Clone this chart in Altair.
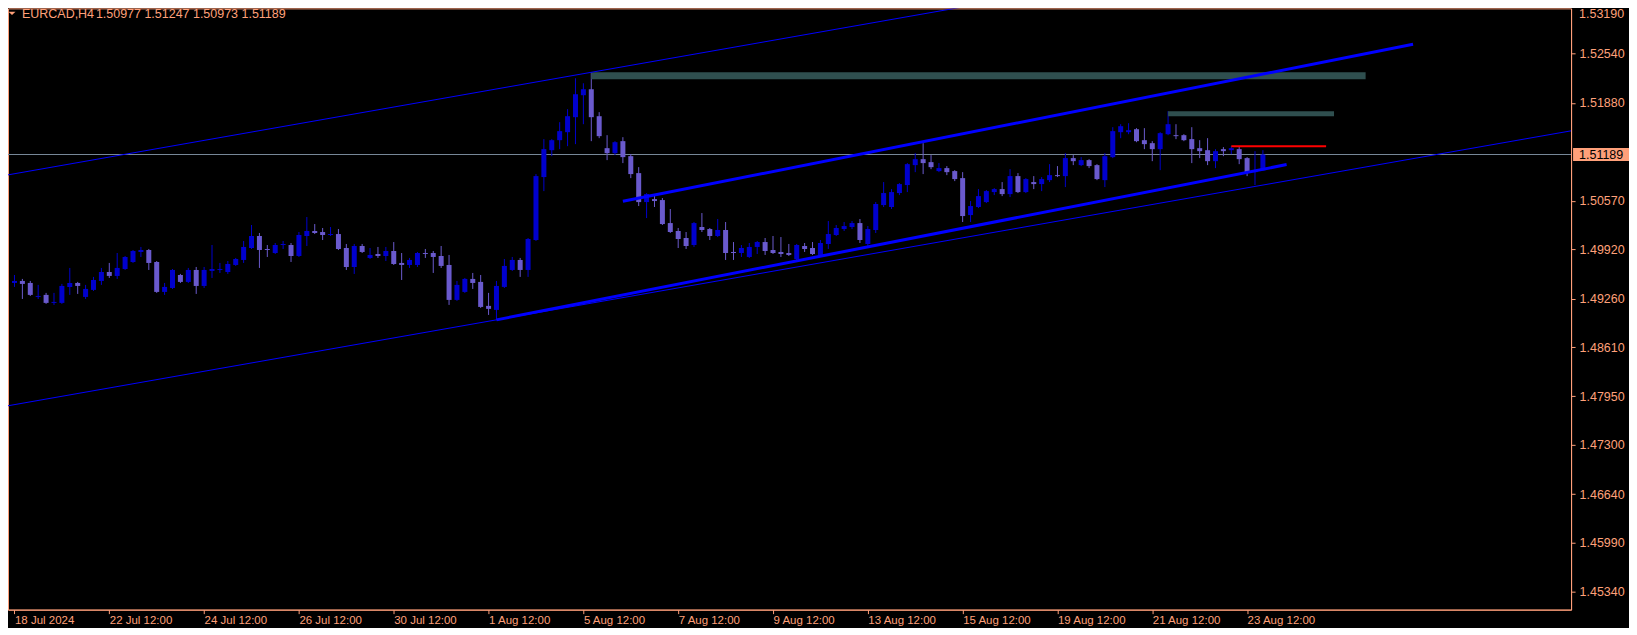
import altair as alt
import pandas as pd

# ---------------- data ----------------
opens = [1.49469, 1.49496, 1.49469, 1.49282, 1.49309, 1.49202, 1.49202, 1.49416, 1.49469, 1.49282,
         1.49376, 1.49496, 1.49616, 1.49563, 1.49656, 1.49750, 1.49884, 1.49910, 1.49750, 1.49349,
         1.49402, 1.49576, 1.49483, 1.49643, 1.49429, 1.49630, 1.49643, 1.49616, 1.49710, 1.49777,
         1.49937, 1.50098, 1.49924, 1.49870, 1.49977, 1.49977, 1.49830, 1.50098, 1.50165, 1.50151,
         1.50111, 1.50124, 1.49937, 1.49683, 1.49964, 1.49804, 1.49857, 1.49830, 1.49897, 1.49737,
         1.49710, 1.49710, 1.49870, 1.49870, 1.49830, 1.49710, 1.49242, 1.49349, 1.49523, 1.49483,
         1.49162, 1.49108, 1.49416, 1.49643, 1.49777, 1.49643, 1.50044, 1.50887, 1.51247, 1.51381,
         1.51488, 1.51689, 1.51983, 1.52063, 1.51702, 1.51274, 1.51207, 1.51368, 1.51167, 1.50940,
         1.50552, 1.50592, 1.50579, 1.50271, 1.50165, 1.50071, 1.49977, 1.50218, 1.50191, 1.50098,
         1.50178, 1.49884, 1.49870, 1.49817, 1.49951, 1.50017, 1.49910, 1.49884, 1.49870, 1.49790,
         1.49964, 1.49937, 1.49844, 1.49991, 1.50111, 1.50191, 1.50218, 1.50271, 1.49991, 1.50178,
         1.50512, 1.50486, 1.50673, 1.50780, 1.51047, 1.51127, 1.51087, 1.50967, 1.51007, 1.50967,
         1.50873, 1.50378, 1.50486, 1.50552, 1.50686, 1.50726, 1.50659, 1.50900, 1.50686, 1.50820,
         1.50793, 1.50846, 1.50913, 1.50900, 1.51141, 1.51047, 1.51114, 1.51047, 1.50846, 1.51154,
         1.51488, 1.51488, 1.51528, 1.51381, 1.51341, 1.51261, 1.51461, 1.51448, 1.51448, 1.51395,
         1.51274, 1.51247, 1.51100, 1.51261, 1.51247, 1.51261, 1.51141, 1.50953, 1.50977]

highs = [1.49576, 1.49523, 1.49496, 1.49443, 1.49336, 1.49336, 1.49456, 1.49670, 1.49483, 1.49443,
         1.49550, 1.49670, 1.49737, 1.49870, 1.49830, 1.49910, 1.49951, 1.49924, 1.49763, 1.49469,
         1.49656, 1.49590, 1.49670, 1.49683, 1.49683, 1.49977, 1.49737, 1.49763, 1.49804, 1.50031,
         1.50245, 1.50138, 1.49977, 1.50004, 1.50031, 1.50004, 1.50151, 1.50352, 1.50258, 1.50205,
         1.50218, 1.50191, 1.49991, 1.49991, 1.49991, 1.49937, 1.49951, 1.49951, 1.50017, 1.49870,
         1.49804, 1.49884, 1.49924, 1.49897, 1.49964, 1.49844, 1.49496, 1.49536, 1.49603, 1.49576,
         1.49336, 1.49496, 1.49790, 1.49817, 1.49804, 1.50071, 1.50927, 1.51395, 1.51395, 1.51622,
         1.51796, 1.52210, 1.52143, 1.52290, 1.51756, 1.51448, 1.51368, 1.51421, 1.51194, 1.51020,
         1.50672, 1.50659, 1.50606, 1.50459, 1.50205, 1.50151, 1.50285, 1.50405, 1.50205, 1.50325,
         1.50285, 1.50017, 1.49977, 1.50004, 1.50031, 1.50071, 1.50098, 1.50084, 1.49991, 1.49991,
         1.50004, 1.50017, 1.50044, 1.50298, 1.50245, 1.50285, 1.50298, 1.50325, 1.50231, 1.50552,
         1.50820, 1.50726, 1.50806, 1.51074, 1.51207, 1.51341, 1.51181, 1.51074, 1.51034, 1.50980,
         1.50953, 1.50566, 1.50726, 1.50713, 1.50739, 1.50820, 1.50993, 1.50940, 1.50873, 1.50900,
         1.50887, 1.51060, 1.51034, 1.51207, 1.51181, 1.51154, 1.51127, 1.51060, 1.51207, 1.51555,
         1.51595, 1.51608, 1.51542, 1.51542, 1.51368, 1.51488, 1.51769, 1.51595, 1.51461, 1.51555,
         1.51381, 1.51408, 1.51261, 1.51288, 1.51301, 1.51301, 1.51154, 1.51234, 1.51247]

lows = [1.49416, 1.49255, 1.49295, 1.49255, 1.49189, 1.49175, 1.49189, 1.49309, 1.49322, 1.49255,
        1.49362, 1.49443, 1.49536, 1.49523, 1.49643, 1.49737, 1.49817, 1.49643, 1.49336, 1.49309,
        1.49389, 1.49469, 1.49469, 1.49322, 1.49402, 1.49536, 1.49603, 1.49590, 1.49697, 1.49737,
        1.49924, 1.49670, 1.49817, 1.49857, 1.49924, 1.49750, 1.49817, 1.49964, 1.50124, 1.50044,
        1.50098, 1.49910, 1.49643, 1.49590, 1.49870, 1.49790, 1.49804, 1.49763, 1.49710, 1.49509,
        1.49670, 1.49683, 1.49804, 1.49603, 1.49670, 1.49175, 1.49229, 1.49336, 1.49389, 1.49135,
        1.49041, 1.48975, 1.49402, 1.49630, 1.49550, 1.49550, 1.50031, 1.50699, 1.51167, 1.51261,
        1.51301, 1.51328, 1.51595, 1.51368, 1.51408, 1.51114, 1.51181, 1.51074, 1.50873, 1.50499,
        1.50338, 1.50486, 1.50245, 1.50138, 1.49937, 1.49924, 1.49951, 1.50151, 1.50044, 1.50084,
        1.49777, 1.49777, 1.49817, 1.49804, 1.49857, 1.49844, 1.49857, 1.49817, 1.49830, 1.49777,
        1.49884, 1.49844, 1.49830, 1.49924, 1.50098, 1.50165, 1.50191, 1.50004, 1.49964, 1.50138,
        1.50486, 1.50459, 1.50646, 1.50686, 1.50953, 1.50927, 1.50993, 1.50953, 1.50913, 1.50833,
        1.50285, 1.50285, 1.50472, 1.50539, 1.50646, 1.50632, 1.50619, 1.50673, 1.50673, 1.50726,
        1.50699, 1.50820, 1.50887, 1.50753, 1.51047, 1.51034, 1.51007, 1.50846, 1.50753, 1.51141,
        1.51408, 1.51461, 1.51354, 1.51261, 1.51100, 1.50980, 1.51448, 1.51395, 1.51368, 1.51074,
        1.51141, 1.51047, 1.51007, 1.51167, 1.51194, 1.51060, 1.50900, 1.50780, 1.50973]

closes = [1.49496, 1.49456, 1.49309, 1.49295, 1.49202, 1.49215, 1.49429, 1.49469, 1.49429, 1.49389,
          1.49509, 1.49616, 1.49563, 1.49670, 1.49817, 1.49897, 1.49910, 1.49737, 1.49349, 1.49416,
          1.49643, 1.49483, 1.49643, 1.49429, 1.49643, 1.49656, 1.49656, 1.49723, 1.49790, 1.49951,
          1.50098, 1.49910, 1.49910, 1.49977, 1.49991, 1.49830, 1.50111, 1.50165, 1.50138, 1.50111,
          1.50124, 1.49924, 1.49683, 1.49964, 1.49884, 1.49844, 1.49830, 1.49897, 1.49723, 1.49710,
          1.49777, 1.49870, 1.49857, 1.49817, 1.49697, 1.49242, 1.49443, 1.49523, 1.49469, 1.49148,
          1.49122, 1.49429, 1.49697, 1.49777, 1.49643, 1.50058, 1.50900, 1.51261, 1.51381, 1.51502,
          1.51702, 1.51996, 1.52063, 1.51689, 1.51435, 1.51207, 1.51354, 1.51154, 1.50927, 1.50552,
          1.50659, 1.50566, 1.50258, 1.50151, 1.50058, 1.49964, 1.50271, 1.50178, 1.50098, 1.50178,
          1.49870, 1.49870, 1.49937, 1.49951, 1.50017, 1.49897, 1.49870, 1.49857, 1.49844, 1.49977,
          1.49924, 1.49857, 1.50004, 1.50124, 1.50205, 1.50231, 1.50271, 1.50044, 1.50191, 1.50526,
          1.50673, 1.50686, 1.50793, 1.51060, 1.51127, 1.51074, 1.51020, 1.51007, 1.50953, 1.50860,
          1.50365, 1.50499, 1.50632, 1.50699, 1.50726, 1.50659, 1.50900, 1.50686, 1.50860, 1.50793,
          1.50860, 1.50913, 1.50900, 1.51141, 1.51100, 1.51114, 1.51034, 1.50860, 1.51167, 1.51502,
          1.51568, 1.51515, 1.51368, 1.51328, 1.51261, 1.51475, 1.51595, 1.51435, 1.51381, 1.51261,
          1.51234, 1.51100, 1.51234, 1.51234, 1.51274, 1.51127, 1.50953, 1.50980, 1.51189]

tick_bars = list(range(0, 157, 12))
tick_texts = ["18 Jul 2024", "22 Jul 12:00", "24 Jul 12:00", "26 Jul 12:00", "30 Jul 12:00",
              "1 Aug 12:00", "5 Aug 12:00", "7 Aug 12:00", "9 Aug 12:00", "13 Aug 12:00",
              "15 Aug 12:00", "19 Aug 12:00", "21 Aug 12:00", "23 Aug 12:00"]
price_ticks = [1.45340, 1.45990, 1.46640, 1.47300, 1.47950, 1.48610, 1.49260,
               1.49920, 1.50570, 1.51880, 1.52540]
top_price_label = ["1.53190"]

symbol_text = "EURCAD,H4"
ohlc_text = "1.50977 1.51247 1.50973 1.51189"
last_price = [1.51189]
last_price_text = ["1.51189"]

# channel (thin lines): anchor bars / prices and common slope (price per bar)
channel_anchor_bars = [73, 61]
channel_anchor_prices = [1.52290, 1.48975]
channel_slope = 0.0001861
# thick trend lines: start/end bars and prices
trend_bars = [[61, 161], [77, 177]]
trend_prices = [[1.48975, 1.51054], [1.50562, 1.52665]]
# horizontal zones
zone_start = [73, 146]
zone_end = [171, 167]
zone_low = [1.52197, 1.51702]
zone_high = [1.52290, 1.51769]
# red level
red_start = [154]
red_end = [166]
red_price = [1.51301]

# ---------------- styling ----------------
SALMON = "#FFA07A"
BULL = "#0000CD"
BEAR = "#6A5ACD"
LINE_BLUE = "#0000FF"
ZONE = "#2F4F4F"
PRICE_LINE = "#778899"
FONT = "Liberation Sans"

W, H = 1565, 602
X_DOMAIN = [-0.188, 196.37]
Y_DOMAIN = [1.450945, 1.531458]

x_scale = alt.Scale(domain=X_DOMAIN, nice=False, zero=False)
y_scale = alt.Scale(domain=Y_DOMAIN, nice=False, zero=False)

label_expr = "[" + ",".join("'%s'" % t for t in tick_texts) + "][round(datum.value / 12)]"

x_axis = alt.Axis(values=tick_bars, labelExpr=label_expr, orient="bottom", title=None, grid=False,
                  tickSize=4, labelAlign="left", labelBaseline="top", labelPadding=1,
                  labelOverlap=False, labelFlush=False, labelBound=False, labelFontSize=11.5,
                  labelColor=SALMON, tickColor=SALMON, domainColor=SALMON, labelFont=FONT)
y_axis = alt.Axis(values=price_ticks, format=".5f", orient="right", title=None, grid=False,
                  tickSize=4, labelPadding=4, labelOverlap=False, labelFlush=False,
                  labelFontSize=12.5, labelColor=SALMON, tickColor=SALMON, domainColor=SALMON,
                  labelFont=FONT, labelBaseline="middle")


def X(field):
    return alt.X(field, scale=x_scale, axis=x_axis)


def Y(field):
    return alt.Y(field, scale=y_scale, axis=y_axis)


n = len(opens)
candles = pd.DataFrame({
    "bar": list(range(n)),
    "open": opens, "high": highs, "low": lows, "close": closes,
})
candles["dir"] = ["up" if c >= o else "down" for o, c in zip(opens, closes)]
color = alt.Color("dir:N", scale=alt.Scale(domain=["up", "down"], range=[BULL, BEAR]), legend=None)

wicks = alt.Chart(candles).mark_rule(strokeWidth=1).encode(
    x=X("bar:Q"), y=Y("low:Q"), y2="high:Q", color=color)
bodies = alt.Chart(candles).mark_bar(size=5).encode(
    x=X("bar:Q"), y=Y("open:Q"), y2="close:Q", color=color)

# current price line
price_df = pd.DataFrame({"price": last_price, "label": last_price_text})
price_line = alt.Chart(price_df).mark_rule(color=PRICE_LINE, strokeWidth=1).encode(y=Y("price:Q"))

# channel thin lines
edge_bars = [X_DOMAIN[0] - 1, X_DOMAIN[1] + 1]
ch_rows = []
for k, (ab, ap) in enumerate(zip(channel_anchor_bars, channel_anchor_prices)):
    for b in edge_bars:
        ch_rows.append({"line": k, "bar": b, "price": ap + channel_slope * (b - ab)})
channel = alt.Chart(pd.DataFrame(ch_rows)).mark_line(color=LINE_BLUE, strokeWidth=1, clip=True).encode(
    x=X("bar:Q"), y=Y("price:Q"), detail="line:N")

# thick trend lines
tr_rows = []
for k, (bs, ps) in enumerate(zip(trend_bars, trend_prices)):
    for b, p in zip(bs, ps):
        tr_rows.append({"line": k, "bar": b, "price": p})
trends = alt.Chart(pd.DataFrame(tr_rows)).mark_line(color=LINE_BLUE, strokeWidth=3, clip=True).encode(
    x=X("bar:Q"), y=Y("price:Q"), detail="line:N")

# zones
zones_df = pd.DataFrame({"x1": zone_start, "x2": zone_end, "lo": zone_low, "hi": zone_high})
zones = alt.Chart(zones_df).mark_rect(color=ZONE, opacity=1).encode(
    x=X("x1:Q"), x2="x2:Q", y=Y("lo:Q"), y2="hi:Q")

# red level
red_df = pd.DataFrame({"x1": red_start, "x2": red_end, "p": red_price})
red = alt.Chart(red_df).mark_rule(color="#FF0000", strokeWidth=2).encode(
    x=X("x1:Q"), x2="x2:Q", y=Y("p:Q"))

# last price tag on the right axis
tag_shape = "M-1,-0.232L1,-0.232L1,0.232L-1,0.232Z"
tag_box = alt.Chart(price_df).mark_point(shape=tag_shape, size=3136, filled=True, color=SALMON,
                                         opacity=1, strokeWidth=0).encode(
    x=alt.value(W + 30), y=Y("price:Q"))
tag_text = alt.Chart(price_df).mark_text(align="left", baseline="middle", font=FONT, fontSize=12.5,
                                         color="black").encode(
    x=alt.value(W + 8), y=Y("price:Q"), text="label:N")

# topmost price label (its tick sits just above the visible frame)
top_df = pd.DataFrame({"t": top_price_label})
top_label = alt.Chart(top_df).mark_text(align="left", baseline="middle", font=FONT, fontSize=12.5,
                                        color=SALMON).encode(
    x=alt.value(W + 8), y=alt.value(6), text="t:N")

# header
head_df = pd.DataFrame({"sym": [symbol_text], "ohlc": [ohlc_text]})
head_sym = alt.Chart(head_df).mark_text(align="left", baseline="middle", font=FONT, fontSize=12.5,
                                        color=SALMON).encode(
    x=alt.value(14), y=alt.value(6), text="sym:N")
head_ohlc = alt.Chart(head_df).mark_text(align="left", baseline="middle", font=FONT, fontSize=12.5,
                                         color=SALMON).encode(
    x=alt.value(88), y=alt.value(6), text="ohlc:N")
tri = alt.Chart(head_df).mark_point(shape="M-1,-0.5L1,-0.5L0,0.5Z", size=49, filled=True,
                                    color=SALMON, opacity=1, strokeWidth=0).encode(
    x=alt.value(4), y=alt.value(5))

chart = alt.layer(
    price_line, wicks, bodies, zones, channel, trends, red, tag_box, tag_text, top_label,
    head_sym, head_ohlc, tri
).properties(
    width=W, height=H, background="black",
    padding={"left": 0, "top": 0, "right": 58, "bottom": 18},
    autosize=alt.AutoSizeParams(type="none"),
).configure_view(stroke=SALMON, strokeWidth=1, fill="black")

chart.save("out.html", embed_options={"renderer": "svg", "actions": False})
